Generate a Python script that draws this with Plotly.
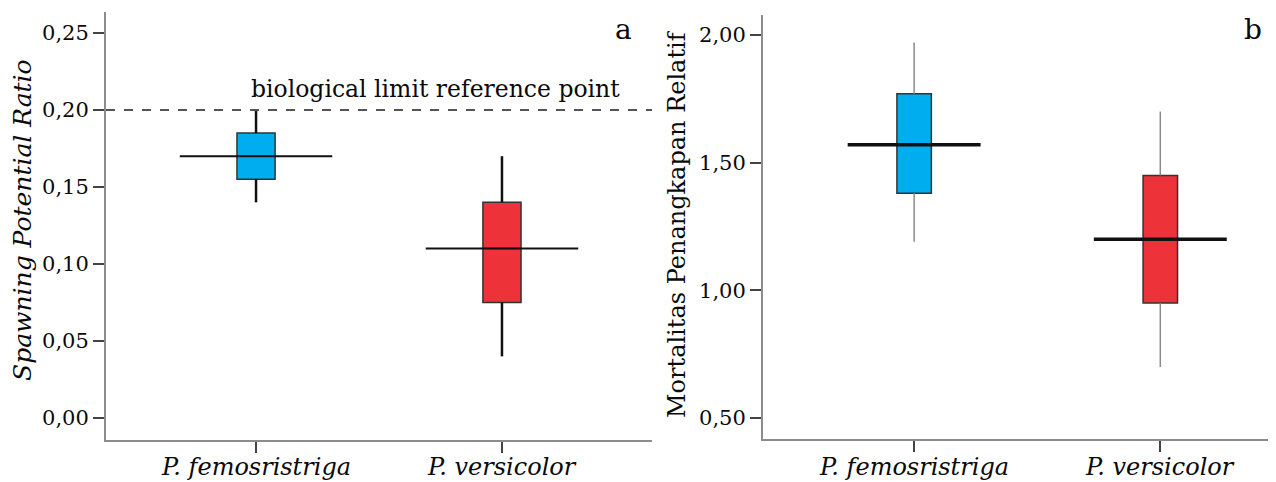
import plotly.graph_objects as go

# ---- data ----
species = ["P. femosristriga", "P. versicolor"]
colors = ["#00AEEF", "#EE3239"]

# panel a: Spawning Potential Ratio
spr_low = [0.14, 0.04]
spr_q1 = [0.155, 0.075]
spr_med = [0.17, 0.11]
spr_q3 = [0.185, 0.14]
spr_high = [0.20, 0.17]
spr_limit = 0.20

# panel b: Mortalitas Penangkapan Relatif
mpr_low = [1.19, 0.70]
mpr_q1 = [1.38, 0.95]
mpr_med = [1.57, 1.20]
mpr_q3 = [1.77, 1.45]
mpr_high = [1.97, 1.70]

SERIF = "DejaVu Serif"
INK = "#0a0a0a"

# page body adds an 8px margin; size the figure so it fills the window
OFF = 8
W, H = 1276 - OFF, 482 - OFF


def px(sx):
    return (sx - OFF) / W


def py(sy):
    return 1 - (sy - OFF) / H


fig = go.Figure()


def add_panel(xa, ya, low, q1, med, q3, high, box_w, med_half, whisk_col, whisk_w, med_w):
    for i, name in enumerate(species):
        # whiskers
        fig.add_trace(go.Scatter(
            x=[i, i, None, i, i], y=[low[i], q1[i], None, q3[i], high[i]],
            mode="lines", line=dict(color=whisk_col, width=whisk_w),
            xaxis=xa, yaxis=ya, showlegend=False, hoverinfo="skip"))
        # box
        fig.add_trace(go.Box(
            x=[i], q1=[q1[i]], median=[med[i]], q3=[q3[i]],
            lowerfence=[q1[i]], upperfence=[q3[i]],
            width=box_w, fillcolor=colors[i],
            line=dict(color="#333333", width=1.5),
            whiskerwidth=0, boxpoints=False,
            xaxis=xa, yaxis=ya, showlegend=False, name=name))
        # extended median line
        fig.add_trace(go.Scatter(
            x=[i - med_half, i + med_half], y=[med[i], med[i]],
            mode="lines", line=dict(color="#111111", width=med_w),
            xaxis=xa, yaxis=ya, showlegend=False, hoverinfo="skip"))
        # category label below the axis
        fig.add_annotation(x=i, y=py(467), xref=xa, yref="paper",
                           xanchor="center", yanchor="middle",
                           text="<i>%s</i>" % name, showarrow=False,
                           font=dict(family=SERIF, size=24, color=INK))


add_panel("x", "y", spr_low, spr_q1, spr_med, spr_q3, spr_high, 0.155, 0.31, "#111111", 2.5, 2)
add_panel("x2", "y2", mpr_low, mpr_q1, mpr_med, mpr_q3, mpr_high, 0.14, 0.27, "#8a8a8a", 1.5, 3.5)

axis_common = dict(
    showline=True, linecolor="#8c8c8c", linewidth=2,
    ticks="outside", ticklen=11, tickwidth=2, tickcolor="#444444",
    showgrid=False, zeroline=False, automargin=False,
)
yfont = dict(family=SERIF, size=21, color=INK)

fig.update_layout(
    width=W, height=H,
    margin=dict(l=0, r=0, t=0, b=0),
    paper_bgcolor="white", plot_bgcolor="white",
    separators=",.",
    showlegend=False,
    xaxis=dict(domain=[px(106), px(652)], range=[-0.61, 1.61],
               tickmode="array", tickvals=[0, 1], showticklabels=False,
               anchor="y", **axis_common),
    yaxis=dict(domain=[py(440), py(12)], range=[-0.0143, 0.2636],
               tickmode="array", tickvals=[0, 0.05, 0.10, 0.15, 0.20, 0.25],
               tickformat=".2f", tickfont=yfont, anchor="x", **axis_common),
    xaxis2=dict(domain=[px(763), 1.0], range=[-0.614, 1.47],
                tickmode="array", tickvals=[0, 1], showticklabels=False,
                anchor="y2", **axis_common),
    yaxis2=dict(domain=[py(439), py(15)], range=[0.418, 2.078],
                tickmode="array", tickvals=[0.5, 1.0, 1.5, 2.0],
                tickformat=".2f", tickfont=yfont, anchor="x2", **axis_common),
)

# reference line
fig.add_shape(type="line", xref="x domain", yref="y", x0=0, x1=1,
              y0=spr_limit, y1=spr_limit,
              line=dict(color="#555555", width=2, dash="dash"))

fig.add_annotation(x=0.73, y=spr_limit, xref="x", yref="y",
                   xanchor="center", yanchor="bottom",
                   text="biological limit reference point", showarrow=False,
                   font=dict(family=SERIF, size=23.5, color=INK), yshift=5)

# panel letters
for letter, sx in (("a", 623), ("b", 1253)):
    fig.add_annotation(x=px(sx), y=py(30), xref="paper", yref="paper",
                       xanchor="center", yanchor="middle",
                       text=letter, showarrow=False,
                       font=dict(family=SERIF, size=28, color=INK))

# axis titles
fig.add_annotation(x=px(22), y=py(220), xref="paper", yref="paper",
                   xanchor="center", yanchor="middle",
                   text="<i>Spawning Potential Ratio</i>", showarrow=False,
                   textangle=-90,
                   font=dict(family=SERIF, size=25, color=INK))
fig.add_annotation(x=px(677), y=py(224), xref="paper", yref="paper",
                   xanchor="center", yanchor="middle",
                   text="Mortalitas Penangkapan Relatif", showarrow=False,
                   textangle=-90,
                   font=dict(family=SERIF, size=24, color=INK))

fig.write_html("out.html")
